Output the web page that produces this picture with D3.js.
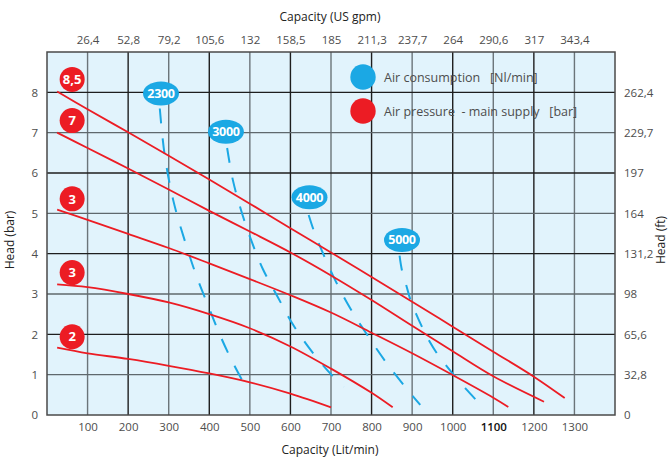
<!DOCTYPE html>
<html>
<head>
<meta charset="utf-8">
<script src="https://cdn.jsdelivr.net/npm/d3@7"></script>
<style>
  body { margin: 0; background: #fff; }
  text { font-family: "Open Sans", "Noto Sans", sans-serif; }
</style>
</head>
<body>
<div id="chart"></div>
<script>
// capacity ticks (Lit/min) and the matching US gpm / ft labels
var capTicks = [100, 200, 300, 400, 500, 600, 700, 800, 900, 1000, 1100, 1200, 1300];
var gpmLabels = ["26,4", "52,8", "79,2", "105,6", "132", "158,5", "185", "211,3", "237,7", "264", "290,6", "317", "343,4"];
var headTicks = [0, 1, 2, 3, 4, 5, 6, 7, 8];
var ftLabels = ["0", "32,8", "65,6", "98", "131,2", "164", "197", "229,7", "262,4"];

// air pressure curves [Lit/min, bar]
var p85 = [[25, 8.02], [100, 7.58], [200, 7.01], [300, 6.43], [400, 5.84], [500, 5.24], [600, 4.63], [700, 4.03], [800, 3.42], [900, 2.81], [1000, 2.19], [1100, 1.57], [1200, 0.95], [1276, 0.42]];
var p7 = [[25, 7.0], [100, 6.62], [200, 6.11], [300, 5.59], [400, 5.06], [500, 4.55], [600, 4.03], [700, 3.46], [800, 2.85], [900, 2.21], [1000, 1.58], [1100, 0.96], [1225, 0.33]];
var p3a = [[25, 5.09], [100, 4.84], [200, 4.49], [300, 4.14], [400, 3.76], [500, 3.37], [600, 2.97], [700, 2.54], [800, 2.04], [900, 1.53], [1000, 0.99], [1100, 0.43], [1137, 0.2]];
var p3b = [[25, 3.24], [100, 3.17], [200, 3.0], [300, 2.79], [400, 2.5], [500, 2.15], [600, 1.7], [700, 1.15], [800, 0.55], [852, 0.19]];
var p2 = [[25, 1.67], [100, 1.53], [200, 1.39], [300, 1.22], [400, 1.03], [500, 0.81], [600, 0.53], [700, 0.19]];
var pressureCurves = [p85, p7, p3a, p3b, p2];
var pressureLabels = ["8,5", "7", "3", "3", "2"];
var pressureLabelPos = [[62, 8.32], [62, 7.3], [62, 5.36], [62, 3.53], [62, 1.94]];

// air consumption lines [Lit/min, bar]
var a2300 = [[278, 7.6], [290, 6.45], [312, 5.29], [344, 4.18], [369, 3.43], [398, 2.69], [426, 1.99], [459, 1.28], [498, 0.55]];
var a3000 = [[444, 6.62], [458, 5.83], [478, 5.09], [503, 4.34], [532, 3.62], [568, 2.94], [607, 2.23], [653, 1.57], [702, 0.99], [732, 0.7]];
var a4000 = [[645, 4.96], [657, 4.59], [673, 4.18], [706, 3.43], [747, 2.65], [793, 1.93], [842, 1.22], [894, 0.56], [920, 0.25]];
var a5000 = [[869, 3.95], [875, 3.58], [886, 3.2], [896, 2.85], [910, 2.5], [925, 2.17], [943, 1.82], [961, 1.53], [986, 1.2], [1007, 0.94], [1033, 0.64], [1058, 0.37]];
var airCurves = [a2300, a3000, a4000, a5000];
var airLabels = ["2300", "3000", "4000", "5000"];
var airLabelPos = [[281, 7.97], [441, 7.02], [647, 5.4], [875, 4.34]];

var legendItems = ["Air consumption   [Nl/min]", "Air pressure  - main supply   [bar]"];

var width = 671, height = 459;
var margin = { top: 52, right: 56, bottom: 44, left: 47 };
var red = "#ec1c24", cyan = "#1ba8e4", textCol = "#4d4d4d";

var svg = d3.select('#chart').append('svg')
    .attr('width', width)
    .attr('height', height);

var x = d3.scaleLinear().domain([0, 1400]).range([margin.left, width - margin.right]);
var y = d3.scaleLinear().domain([0, 9]).range([height - margin.bottom, margin.top]);

// plot background
svg.append('rect')
    .attr('x', x(0)).attr('y', y(9))
    .attr('width', x(1400) - x(0)).attr('height', y(0) - y(9))
    .attr('fill', '#e1f3fc');

// grid
svg.append('g').selectAll('line')
    .data(capTicks).enter().append('line')
    .attr('x1', function(d) { return x(d) }).attr('x2', function(d) { return x(d) })
    .attr('y1', y(0)).attr('y2', y(9))
    .attr('stroke', function(d) { return (d / 100) % 2 ? '#6b7479' : '#1e1e1e' })
    .attr('stroke-width', 1.4);

svg.append('g').selectAll('line')
    .data(headTicks.slice(1)).enter().append('line')
    .attr('x1', x(0)).attr('x2', x(1400))
    .attr('y1', function(d) { return y(d) }).attr('y2', function(d) { return y(d) })
    .attr('stroke', function(d) { return d % 2 ? '#5f686d' : '#1e1e1e' })
    .attr('stroke-width', 1.4);

// border
svg.append('rect')
    .attr('x', x(0)).attr('y', y(9))
    .attr('width', x(1400) - x(0)).attr('height', y(0) - y(9))
    .attr('fill', 'none').attr('stroke', '#4a4a4a').attr('stroke-width', 1.5);

// axes (labels only)
function styleAxis(g) {
    g.select('.domain').remove();
    g.selectAll('.tick line').remove();
    g.selectAll('text').attr('fill', textCol).style('font-size', '11.5px')
        .style('font-family', '"Open Sans", sans-serif');
}

svg.append('g')
    .attr('transform', 'translate(0,' + y(0) + ')')
    .call(d3.axisBottom(x).tickValues(capTicks).tickFormat(d3.format('d')).tickSize(0).tickPadding(8))
    .call(styleAxis)
    .selectAll('text')
    .filter(function(d) { return d === 1100 })
    .attr('fill', '#111').style('font-weight', 600);

svg.append('g')
    .attr('transform', 'translate(0,' + y(9) + ')')
    .call(d3.axisTop(x).tickValues(capTicks).tickFormat(function(d, i) { return gpmLabels[i] }).tickSize(0).tickPadding(8))
    .call(styleAxis);

svg.append('g')
    .attr('transform', 'translate(' + x(0) + ',0)')
    .call(d3.axisLeft(y).tickValues(headTicks).tickSize(0).tickPadding(9))
    .call(styleAxis);

svg.append('g')
    .attr('transform', 'translate(' + x(1400) + ',0)')
    .call(d3.axisRight(y).tickValues(headTicks).tickFormat(function(d, i) { return ftLabels[i] }).tickSize(0).tickPadding(9))
    .call(styleAxis);

// axis titles
function title(txt, tx, ty, rot) {
    svg.append('text')
        .attr('transform', 'translate(' + tx + ',' + ty + ')' + (rot ? ' rotate(-90)' : ''))
        .attr('text-anchor', 'middle')
        .attr('dominant-baseline', 'middle')
        .attr('fill', '#222')
        .style('font-size', '12px')
        .text(txt);
}
title('Capacity  (US gpm)', 330, 18, false);
title('Capacity  (Lit/min)', 330, 451, false);
title('Head  (bar)', 11, 240, true);
title('Head  (ft)', 662, 240, true);

var line = d3.line()
    .x(function(d) { return x(d[0]) })
    .y(function(d) { return y(d[1]) })
    .curve(d3.curveCatmullRom.alpha(0.5));

// air consumption lines
svg.append('g').selectAll('path')
    .data(airCurves).enter().append('path')
    .attr('d', line)
    .attr('fill', 'none')
    .attr('stroke', cyan)
    .attr('stroke-width', 2)
    .attr('stroke-dasharray', '15,15');

// air pressure curves
svg.append('g').selectAll('path')
    .data(pressureCurves).enter().append('path')
    .attr('d', line)
    .attr('fill', 'none')
    .attr('stroke', red)
    .attr('stroke-width', 1.8);

// red badges
var rb = svg.append('g').selectAll('g')
    .data(pressureLabelPos).enter().append('g')
    .attr('transform', function(d) { return 'translate(' + x(d[0]) + ',' + y(d[1]) + ')' });
rb.append('circle').attr('r', 12.5).attr('fill', red);
rb.append('text')
    .attr('text-anchor', 'middle').attr('dy', '0.36em')
    .attr('fill', '#fff').style('font-size', '13px').style('font-weight', 700)
    .text(function(d, i) { return pressureLabels[i] });

// cyan badges
var cb = svg.append('g').selectAll('g')
    .data(airLabelPos).enter().append('g')
    .attr('transform', function(d) { return 'translate(' + x(d[0]) + ',' + y(d[1]) + ')' });
cb.append('ellipse').attr('rx', 18).attr('ry', 12).attr('fill', cyan);
cb.append('text')
    .attr('text-anchor', 'middle').attr('dy', '0.36em')
    .attr('fill', '#fff').style('font-size', '12.5px').style('font-weight', 700)
    .attr('letter-spacing', '-0.3')
    .text(function(d, i) { return airLabels[i] });

// legend
var lg = svg.append('g').selectAll('g')
    .data(legendItems).enter().append('g')
    .attr('transform', function(d, i) { return 'translate(363,' + (77 + i * 34) + ')' });
lg.append('circle').attr('r', 12.7).attr('fill', function(d, i) { return i ? red : cyan });
lg.append('text')
    .attr('x', 21).attr('dy', '0.36em')
    .attr('fill', textCol).style('font-size', '12.5px')
    .attr('xml:space', 'preserve')
    .style('white-space', 'pre')
    .text(function(d) { return d });
</script>
</body>
</html>
